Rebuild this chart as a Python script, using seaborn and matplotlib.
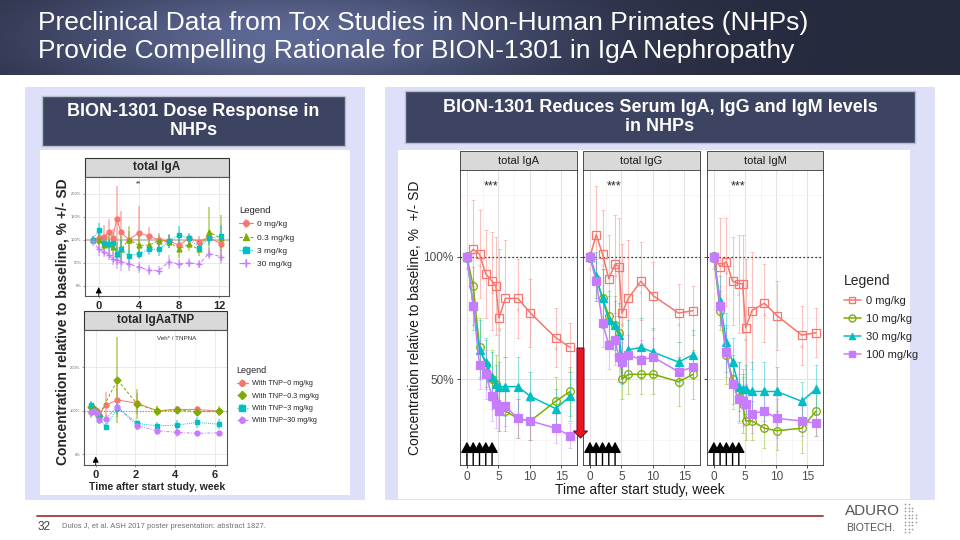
import numpy as np
import pandas as pd
import matplotlib.pyplot as plt
from matplotlib.patches import Rectangle, FancyArrow
from matplotlib.colors import LinearSegmentedColormap
from matplotlib.lines import Line2D
import seaborn as sns

sns.set_theme(style='white')
plt.rcParams['font.family'] = ['Liberation Sans', 'DejaVu Sans']

# right side: serum Ig levels (% of baseline) by week
weeks = [0, 1, 2, 3, 4, 4.6, 5.1, 6.1, 8.1, 10.1, 14.1, 16.4]
doses = ['0 mg/kg', '10 mg/kg', '30 mg/kg', '100 mg/kg']
iga_0 = [100, 103, 101, 93, 90, 88, 75, 83, 83, 77, 67, 63]
iga_10 = [100, 88, 63, 56, 50, 48, 37, 37, 34, 33, 41, 45]
iga_30 = [100, 80, 62, 57, 51, 48, 47, 47, 47, 43, 38, 43]
iga_100 = [100, 80, 56, 52, 43, 40, 37, 39, 34, 33, 30, 27]
igg_0 = [100, 109, 101, 91, 97, 96, 77, 83, 90, 84, 77, 78]
igg_10 = [100, 91, 83, 76, 72, 69, 50, 52, 52, 52, 49, 52]
igg_30 = [100, 92, 83, 74, 72, 68, 58, 62, 63, 61, 57, 60]
igg_100 = [100, 90, 73, 64, 66, 59, 57, 60, 58, 59, 53, 55]
igm_0 = [100, 96, 98, 90, 89, 89, 71, 78, 81, 76, 68, 69]
igm_10 = [100, 78, 60, 50, 45, 40, 33, 33, 30, 29, 30, 37]
igm_30 = [100, 82, 65, 57, 47, 46, 46, 45, 45, 45, 41, 46]
igm_100 = [100, 80, 61, 48, 42, 41, 40, 36, 37, 34, 33, 32]
sd_0 = [2, 20, 18, 18, 20, 20, 28, 24, 16, 14, 12, 10]
sd_10 = [2, 8, 12, 10, 12, 12, 8, 8, 8, 8, 10, 10]
sd_30 = [2, 10, 12, 10, 10, 8, 10, 12, 12, 10, 8, 10]
sd_100 = [2, 8, 10, 10, 10, 10, 8, 8, 8, 8, 6, 5]
dose_weeks = [0, 1, 2, 3, 4]

# left top: dose response, total IgA
dr_weeks = [-0.6, 0, 0.5, 1, 1.4, 1.8, 2.2, 3, 4, 5, 6, 7, 8, 9, 10, 11, 12.2]
dr_labels = ['0 mg/kg', '0.3 mg/kg', '3 mg/kg', '30 mg/kg']
dr_0 = [100, 103, 106, 116, 104, 146, 117, 100, 115, 108, 99, 98, 88, 103, 96, 105, 91]
dr_03 = [100, 100, 88, 91, 85, 70, 79, 100, 88, 88, 98, 96, 80, 90, 79, 117, 103]
dr_3 = [100, 122, 92, 90, 92, 69, 79, 65, 70, 79, 79, 97, 110, 103, 83, 103, 108]
dr_30 = [97, 79, 74, 67, 59, 56, 52, 48, 40, 34, 33, 52, 47, 50, 47, 70, 63]
dr_sd_0 = [8, 15, 25, 30, 20, 70, 45, 20, 58, 20, 15, 12, 15, 12, 12, 12, 15]
dr_sd_03 = [8, 20, 20, 25, 20, 25, 30, 30, 20, 15, 12, 15, 20, 15, 15, 55, 50]
dr_sd_3 = [8, 15, 12, 10, 10, 15, 20, 15, 10, 12, 15, 15, 20, 10, 10, 15, 25]
dr_sd_30 = [10, 15, 12, 12, 15, 20, 20, 15, 12, 10, 10, 15, 10, 10, 8, 12, 15]

# left bottom: total IgAaTNP
tnp_weeks = [-0.25, -0.1, 0.05, 0.15, 0.5, 1.1, 2.1, 3.1, 4.1, 5.1, 6.2]
tnp_labels = ['With TNP~0 mg/kg', 'With TNP~0.3 mg/kg', 'With TNP~3 mg/kg', 'With TNP~30 mg/kg']
tnp_0 = [98, 105, 99, 90, 113, 125, 117, 100, 103, 103, 99]
tnp_03 = [108, 105, 98, 88, np.nan, 171, 115, 100, 102, 98, 99]
tnp_3 = [113, 99, 94, 86, 63, 107, 71, 65, 67, 73, 69]
tnp_30 = [96, 99, 94, 78, 82, 109, 65, 54, 50, 48, 49]
tnp_sd_0 = [15, 10, 8, 8, 30, 40, 25, 10, 8, 8, 8]
tnp_sd_03 = [12, 8, 8, 8, 0, 100, 35, 12, 10, 10, 12]
tnp_sd_3 = [10, 8, 8, 8, 8, 15, 8, 10, 12, 12, 12]
tnp_sd_30 = [10, 8, 8, 8, 8, 8, 10, 10, 10, 5, 5]

colors = ['#F8766D', '#7CAE00', '#00BFC4', '#C77CFF']


def box(x0, y0, x1, y1):
    return [x0 / 960, 1 - y1 / 540, (x1 - x0) / 960, (y1 - y0) / 540]


def long_df(t, series, sds, labels):
    n = len(t)
    df = pd.DataFrame({'week': np.tile(t, len(series)),
                       'value': np.concatenate(series),
                       'sd': np.concatenate(sds),
                       'dose': np.repeat(labels, n)})
    return df.dropna()


fig = plt.figure(figsize=(9.6, 5.4), dpi=100)
bg = fig.add_axes([0, 0, 1, 1])

# banner
gx, gy = np.meshgrid(np.linspace(0, 1, 400), np.linspace(0, 1, 40))
glow = np.exp(-((gx - 0.3) / 0.28) ** 2 - ((gy - 0.5) / 0.9) ** 2)
banner = LinearSegmentedColormap.from_list('banner', ['#262a3d', '#5d6894'])
bg.imshow(glow, extent=[0, 960, 75, 0], cmap=banner, aspect='auto', vmin=0, vmax=1)
bg.set_xlim(0, 960)
bg.set_ylim(540, 0)
bg.axis('off')
bg.text(38, 23, 'Preclinical Data from Tox Studies in Non-Human Primates (NHPs)',
        color='white', fontsize=19, va='center')
bg.text(38, 51, 'Provide Compelling Rationale for BION-1301 in IgA Nephropathy',
        color='white', fontsize=19, va='center')

# panels
bg.add_patch(Rectangle((25, 87), 340, 413, color='#dde0f8', lw=0))
bg.add_patch(Rectangle((385, 87), 550, 413, color='#dde0f8', lw=0))
bg.add_patch(Rectangle((40, 150), 310, 345, color='white', lw=0))
bg.add_patch(Rectangle((398, 150), 512, 349, color='white', lw=0))
bg.add_patch(Rectangle((42, 96), 303, 50, fc='#3d4462', ec='#b8bccc', lw=1))
bg.add_patch(Rectangle((405, 91), 510, 52, fc='#3d4462', ec='#b8bccc', lw=1))
bg.text(193.5, 121, 'BION-1301 Dose Response in\nNHPs', color='white', fontsize=13,
        fontweight='bold', ha='center', va='center', linespacing=1.15)
bg.text(660, 117, 'BION-1301 Reduces Serum IgA, IgG and IgM levels\nin NHPs', color='white',
        fontsize=13, fontweight='bold', ha='center', va='center', linespacing=1.15)

# right facets
right_styles = [('s', 'none'), ('o', 'none'), ('^', 'full'), ('s', 'full')]
facets = [('total IgA', [iga_0, iga_10, iga_30, iga_100], 460, 577),
          ('total IgG', [igg_0, igg_10, igg_30, igg_100], 583, 700),
          ('total IgM', [igm_0, igm_10, igm_30, igm_100], 707, 823)]
for i, (name, series, x0, x1) in enumerate(facets):
    ax = fig.add_axes(box(x0, 170, x1, 465))
    df = long_df(weeks, series, [sd_0, sd_10, sd_30, sd_100], doses)
    ax.axhline(100, color='black', ls=(0, (1, 2.2)), lw=0.9, zorder=1)
    for j, dose in enumerate(doses):
        sub = df[df['dose'] == dose]
        c = colors[j]
        m, fill = right_styles[j]
        ax.errorbar(sub['week'], sub['value'], yerr=sub['sd'], fmt='none', ecolor=c,
                    alpha=0.45, elinewidth=0.8, capsize=1.2, capthick=0.6, zorder=2)
        sns.lineplot(data=sub, x='week', y='value', ax=ax, color=c, marker=m,
                     markersize=5.5, markerfacecolor=(c if fill == 'full' else 'none'),
                     markeredgecolor=c, markeredgewidth=0.9, linewidth=1.1, legend=False, zorder=3)
        if j == 0:
            for w, v in zip(sub['week'][::2], sub['value'][::2]):
                ax.text(w, v - 4, '4', fontsize=4, color=c, alpha=0.6, ha='center', va='top')
    for w in dose_weeks:
        ax.annotate('', xy=(w, 24.5), xytext=(w, 15),
                    arrowprops=dict(arrowstyle='-|>,head_width=0.3,head_length=0.55',
                                    color='black', lw=1.0, shrinkA=0, shrinkB=0))
    ax.text(3.8, 128.5, '***', fontsize=9, ha='center', va='center')
    ax.set_xlim(-1.1, 17.5)
    ax.set_ylim(15, 135.4)
    ax.set_xticks([0, 5, 10, 15])
    ax.set_xticks([2.5, 7.5, 12.5], minor=True)
    ax.set_yticks([50, 100])
    ax.set_yticks([25, 75, 125], minor=True)
    ax.set_yticklabels(['50%', '100%'] if i == 0 else [])
    ax.grid(which='major', color='#e3e3e3', lw=0.8)
    ax.grid(which='minor', color='#f1f1f1', lw=0.5)
    ax.set_axisbelow(True)
    ax.tick_params(which='major', length=2.5, width=0.6, color='#333333', labelsize=8.5,
                   labelcolor='#4d4d4d', pad=2, bottom=True, left=True)
    ax.tick_params(which='minor', length=0)
    ax.set_xlabel('')
    ax.set_ylabel('')
    for s in ax.spines.values():
        s.set_color('#333333')
        s.set_linewidth(0.6)
    bg.add_patch(Rectangle((x0, 151), x1 - x0, 19, fc='#d9d9d9', ec='#333333', lw=0.6))
    bg.text((x0 + x1) / 2, 160.5, name, fontsize=8, color='#1a1a1a', ha='center', va='center')

bg.text(415, 318, 'Concentration relative to baseline, %  +/- SD', rotation=90,
        fontsize=10, color='#1a1a1a', ha='center', va='center')
bg.text(640, 490, 'Time after start study, week', fontsize=10, color='#1a1a1a',
        ha='center', va='center')

handles = []
for j in range(4):
    m, fill = right_styles[j]
    handles.append(Line2D([], [], color=colors[j], marker=m, markersize=5, lw=1.1,
                          markerfacecolor=(colors[j] if fill == 'full' else 'none'),
                          markeredgecolor=colors[j]))
fig.legend(handles, doses, loc='upper left', bbox_to_anchor=(838 / 960, 1 - 268 / 540),
           frameon=False, title='Legend', fontsize=8, title_fontsize=10, labelspacing=0.72,
           handlelength=1.6, alignment='left', borderpad=0, handletextpad=0.45)

# red arrow
top = fig.add_axes([0, 0, 1, 1], zorder=10)
top.set_xlim(0, 960)
top.set_ylim(540, 0)
top.axis('off')
top.add_patch(FancyArrow(580.5, 348, 0, 90, width=7, head_width=14, head_length=7,
                         length_includes_head=True, fc='#e8151d', ec='#6e1036', lw=0.8))


def left_panel(axbox, t, series, sds, labels, markers, lines, xl, yl, xt, xminor, yt):
    ax = fig.add_axes(axbox)
    df = long_df(t, series, sds, labels)
    hands = []
    for j, lab in enumerate(labels):
        sub = df[df['dose'] == lab]
        c = colors[j]
        cont = ax.errorbar(sub['week'], sub['value'], yerr=sub['sd'], fmt='none', ecolor=c,
                           alpha=0.55, elinewidth=1.2, zorder=2)
        ms = 5 if markers[j] == '+' else 3.5
        sns.lineplot(data=sub, x='week', y='value', ax=ax, color=c, marker=markers[j],
                     markersize=ms, markeredgecolor=c, markeredgewidth=1, linewidth=0.7,
                     linestyle=lines[j], legend=False, zorder=3)
        line = Line2D([], [], color=c, marker=markers[j], markersize=ms + 0.5, lw=0.8,
                      linestyle=lines[j], markeredgecolor=c)
        hands.append((cont, line))
    ax.set_xlim(*xl)
    ax.set_ylim(*yl)
    ax.set_xticks(xt)
    ax.set_xticks(xminor, minor=True)
    ax.set_yticks(yt)
    ax.set_yticklabels([f'{v}%' for v in yt])
    ax.grid(which='major', color='#e6e6e6', lw=0.6)
    ax.grid(which='minor', color='#f2f2f2', lw=0.4)
    ax.set_axisbelow(True)
    ax.tick_params(axis='y', labelsize=3, labelcolor='#666666', length=1.5, width=0.4,
                   color='#555555', pad=1, left=True)
    ax.tick_params(axis='x', labelsize=8, length=1.5, width=0.4, color='#555555', pad=2,
                   bottom=True)
    ax.tick_params(which='minor', length=0)
    for lbl in ax.get_xticklabels():
        lbl.set_fontweight('bold')
    ax.set_xlabel('')
    ax.set_ylabel('')
    for s in ax.spines.values():
        s.set_color('#555555')
        s.set_linewidth(0.8)
    return ax, hands


# left top
ax1, hands1 = left_panel(box(85, 176.7, 229, 296), dr_weeks, [dr_0, dr_03, dr_3, dr_30],
                         [dr_sd_0, dr_sd_03, dr_sd_3, dr_sd_30], dr_labels,
                         ['o', '^', 's', '+'], ['-', (0, (3, 2)), (0, (1, 1.2)), (0, (4, 2))],
                         (-1.37, 13), (-22.4, 237), [0, 4, 8, 12], [2, 6, 10],
                         [0, 50, 100, 150, 200])
ax1.axhline(100, color='#c8c8c8', lw=1.6, zorder=1)
ax1.text(4, 222, '**', fontsize=5, ha='center', va='center')
ax1.annotate('', xy=(0, -3), xytext=(0, -22.4),
             arrowprops=dict(arrowstyle='-|>,head_width=0.15,head_length=0.3', color='black',
                             lw=0.6, shrinkA=0, shrinkB=0))
bg.add_patch(Rectangle((85, 158), 144, 18.7, fc='#d9d9d9', ec='#333333', lw=0.8))
bg.text(157, 167.3, 'total IgA', fontsize=8.5, fontweight='bold', ha='center', va='center')
fig.legend(hands1, dr_labels, loc='upper left', bbox_to_anchor=(235 / 960, 1 - 202 / 540),
           frameon=False, title='Legend', fontsize=6, title_fontsize=6.8, labelspacing=0.65,
           handlelength=1.6, alignment='left', borderpad=0, handletextpad=0.5)

# left bottom
ax2, hands2 = left_panel(box(84, 330, 227.3, 465), tnp_weeks, [tnp_0, tnp_03, tnp_3, tnp_30],
                         [tnp_sd_0, tnp_sd_03, tnp_sd_3, tnp_sd_30], tnp_labels,
                         ['o', 'D', 's', 'o'], ['-', (0, (3, 2)), (0, (1, 1.2)), (0, (3, 1.5, 1, 1.5))],
                         (-0.59, 6.64), (-25, 286), [0, 2, 4, 6], [1, 3, 5], [0, 100, 200])
ax2.axhline(100, color='#888888', ls=(0, (1, 1.5)), lw=0.8, zorder=1)
ax2.text(4.1, 267, 'Veh* / TNPNA', fontsize=4.5, color='#333333', ha='center', va='center')
ax2.annotate('', xy=(0, -5), xytext=(0, -25),
             arrowprops=dict(arrowstyle='-|>,head_width=0.15,head_length=0.3', color='black',
                             lw=0.6, shrinkA=0, shrinkB=0))
bg.add_patch(Rectangle((84, 311), 143.3, 19, fc='#d9d9d9', ec='#333333', lw=0.8))
bg.text(155.6, 320.5, 'total IgAaTNP', fontsize=8.5, fontweight='bold', ha='center', va='center')
fig.legend(hands2, tnp_labels, loc='upper left', bbox_to_anchor=(233 / 960, 1 - 362 / 540),
           frameon=False, title='Legend', fontsize=5.2, title_fontsize=6.5, labelspacing=0.75,
           handlelength=1.6, alignment='left', borderpad=0, handletextpad=0.5)

bg.text(63, 322, 'Concentration relative to baseline, % +/- SD', rotation=90, fontsize=10,
        fontweight='bold', ha='center', va='center')
bg.text(157, 487, 'Time after start study, week', fontsize=7.5, fontweight='bold',
        ha='center', va='center')

# footer
bg.plot([37, 823], [516, 516], color='#a03a3a', lw=1.3)
bg.text(38, 527, '32', fontsize=8.5, color='#404040', va='center')
bg.text(62, 526, 'Dulos J, et al. ASH 2017 poster presentation: abstract 1827.', fontsize=5.5,
        color='#707070', va='center')
bg.text(845, 511, 'ADURO', fontsize=11, color='#555555', va='center')
bg.text(846, 528, 'BIOTECH.', fontsize=7.5, color='#555555', va='center')
dx, dy = np.meshgrid(np.arange(6), np.arange(9))
keep = (dx * 1.4) ** 2 + (dy - 4) ** 2 <= 20
bg.scatter(905 + dx[keep] * 3.5, 504 + dy[keep] * 3.5, s=1.5, color='#9a9a9a', lw=0)

fig.savefig('out.png', dpi=100)
